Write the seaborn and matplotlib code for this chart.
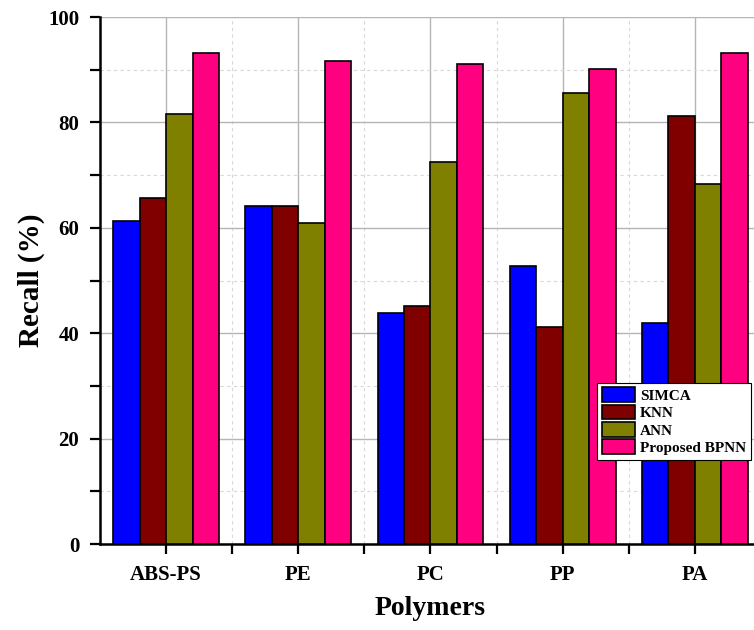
import matplotlib
matplotlib.use("Agg")
import matplotlib.pyplot as plt
import numpy as np
import pandas as pd
import seaborn as sns
from matplotlib.ticker import MultipleLocator, FixedLocator

polymers = ["ABS-PS", "PE", "PC", "PP", "PA"]
models = ["SIMCA", "KNN", "ANN", "Proposed BPNN"]
simca = [61.3, 64.1, 43.8, 52.8, 42.0]
knn = [65.6, 64.1, 45.2, 41.2, 81.2]
ann = [81.6, 61.0, 72.5, 85.5, 68.4]
bpnn = [93.1, 91.6, 91.1, 90.1, 93.2]
colors = ["#0000FF", "#800000", "#808000", "#FF0080"]

df = pd.DataFrame({"Polymers": polymers * 4,
                   "Model": np.repeat(models, len(polymers)),
                   "Recall": simca + knn + ann + bpnn})

sns.set_style("white")
plt.rcParams['font.family'] = ['Liberation Serif', 'DejaVu Serif']
plt.rcParams['font.weight'] = 'bold'
plt.rcParams['text.color'] = 'black'
plt.rcParams['axes.labelcolor'] = 'black'
plt.rcParams['xtick.color'] = 'black'
plt.rcParams['ytick.color'] = 'black'

fig = plt.figure(figsize=(7.54, 6.3), dpi=100)
ax = fig.add_axes([0.1326, 0.1365, 0.8767, 0.8365])

sns.barplot(data=df, x="Polymers", y="Recall", hue="Model", palette=colors,
            edgecolor="black", linewidth=1.2, width=0.8, saturation=1, ax=ax, zorder=3)

ax.set_xlim(-0.5, 4.5)
ax.set_ylim(0, 100)
ax.yaxis.set_major_locator(MultipleLocator(20))
ax.yaxis.set_minor_locator(MultipleLocator(10))
ax.xaxis.set_minor_locator(FixedLocator([0.5, 1.5, 2.5, 3.5]))

ax.grid(which="major", color="#b5b5b5", linewidth=1.0, linestyle="-", zorder=0)
ax.grid(which="minor", color="#d8d8d8", linewidth=0.8, linestyle=(0, (3, 3)), zorder=0)
ax.set_axisbelow(True)

for s in ["top", "right"]:
    ax.spines[s].set_visible(False)
for s in ["left", "bottom"]:
    ax.spines[s].set_color("black")
    ax.spines[s].set_linewidth(1.8)

ax.tick_params(which="both", direction="out", length=7, width=1.6, color="black",
               left=True, bottom=True)
ax.tick_params(axis="both", which="major", labelsize=15, pad=8, labelcolor="black")
for lab in ax.get_xticklabels() + ax.get_yticklabels():
    lab.set_fontweight("bold")

ax.set_xlabel("Polymers", fontsize=20, fontweight="bold", labelpad=8, color="black")
ax.set_ylabel("Recall (%)", fontsize=21, fontweight="bold", labelpad=2, color="black")

leg = ax.legend(loc="upper left", bbox_to_anchor=(0.752, 0.306), borderaxespad=0,
                frameon=True, fancybox=False, framealpha=1, edgecolor="black",
                handlelength=2.2, handleheight=1.1, labelspacing=0.12,
                handletextpad=0.3, borderpad=0.3, prop={"weight": "bold", "size": 11})
leg.get_frame().set_linewidth(0.8)

fig.savefig("out.png", dpi=100)
